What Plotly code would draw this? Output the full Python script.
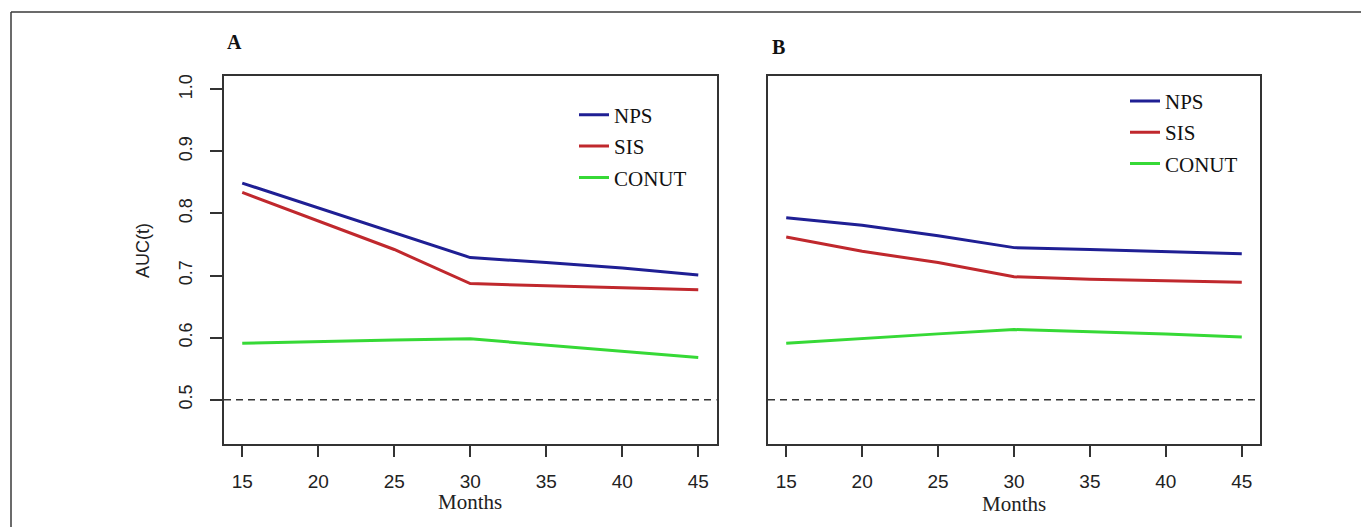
import plotly.graph_objects as go

# page is 1369x527; the html body has an 8px margin, so the figure is 1361x519
PAGE_OFF = 8
W, H = 1361, 519

months = [15, 20, 25, 30, 35, 40, 45]
x_ticks = [15, 20, 25, 30, 35, 40, 45]
y_ticks = [0.5, 0.6, 0.7, 0.8, 0.9, 1.0]
y_tick_labels = ["0.5", "0.6", "0.7", "0.8", "0.9", "1.0"]

series_names = ["NPS", "SIS", "CONUT"]

# Panel A
nps_a = [0.849, 0.809, 0.769, 0.729, 0.721, 0.712, 0.701]
sis_a = [0.834, 0.788, 0.742, 0.687, 0.684, 0.681, 0.677]
conut_a = [0.591, 0.594, 0.596, 0.598, 0.588, 0.578, 0.568]

# Panel B
nps_b = [0.793, 0.781, 0.764, 0.745, 0.742, 0.738, 0.735]
sis_b = [0.762, 0.739, 0.721, 0.698, 0.694, 0.691, 0.689]
conut_b = [0.591, 0.599, 0.606, 0.613, 0.610, 0.606, 0.601]

reference_auc = 0.5

colors = {"NPS": "#1f1f94", "SIS": "#c0282d", "CONUT": "#36d936"}
serif = "Times New Roman, Liberation Serif, serif"
sans = "Arial, Liberation Sans, sans-serif"
axis_col = "#333333"

def px_x(p):
    return (p - PAGE_OFF) / W

def px_y(p):
    return 1 - (p - PAGE_OFF) / H

fig = go.Figure()

panels = [
    ("x", "y", "legend", [nps_a, sis_a, conut_a]),
    ("x2", "y2", "legend2", [nps_b, sis_b, conut_b]),
]
for xa, ya, lg, vals in panels:
    for name, v in zip(series_names, vals):
        fig.add_trace(go.Scatter(
            x=months, y=v, mode="lines", name=name,
            line=dict(color=colors[name], width=3),
            xaxis=xa, yaxis=ya, legend=lg, legendgroup=name + lg,
        ))

ydom = [px_y(444), px_y(74)]
common_x = dict(range=[13.8, 46.2], tickvals=x_ticks, ticktext=[str(t) for t in x_ticks],
                showline=True, mirror=True, linecolor=axis_col, linewidth=1.5,
                ticks="outside", ticklen=11, tickwidth=1.5, tickcolor=axis_col,
                tickfont=dict(family=sans, size=19, color="#222"),
                ticklabelstandoff=8,
                showgrid=False, zeroline=False, fixedrange=True)
common_y = dict(range=[0.428, 1.022], showline=True, mirror=True, linecolor=axis_col,
                linewidth=1.5, showgrid=False, zeroline=False, domain=ydom)

legend_common = dict(xanchor="left", yanchor="top", bgcolor="rgba(0,0,0,0)",
                     font=dict(family=serif, size=21, color="#111"),
                     traceorder="grouped", tracegroupgap=1, itemwidth=30)

fig.update_layout(
    width=W, height=H,
    margin=dict(l=0, r=0, t=0, b=0),
    paper_bgcolor="white", plot_bgcolor="white",
    showlegend=True,
    xaxis=dict(domain=[px_x(224), px_x(716.5)], anchor="y", **common_x),
    yaxis=dict(anchor="x", tickvals=y_ticks, ticktext=y_tick_labels, tickangle=-90,
               ticks="outside", ticklen=12, tickwidth=1.5, tickcolor=axis_col,
               tickfont=dict(family=sans, size=18, color="#222"), ticklabelstandoff=11,
               **common_y),
    xaxis2=dict(domain=[px_x(768), px_x(1260)], anchor="y2", **common_x),
    yaxis2=dict(anchor="x2", ticks="", showticklabels=False, **common_y),
    legend=dict(x=px_x(574), y=px_y(93), **legend_common),
    legend2=dict(x=px_x(1125), y=px_y(79), **legend_common),
)

# reference line AUC = 0.5 on both panels
for xa, ya in [("x", "y"), ("x2", "y2")]:
    fig.add_shape(type="line", xref=f"{xa} domain", yref=ya, x0=0, x1=1,
                  y0=reference_auc, y1=reference_auc,
                  line=dict(color="#333", width=1.5, dash="7px,5px"))

# outer frame (open at right/bottom as in original crop)
fig.add_shape(type="line", xref="paper", yref="paper", x0=px_x(11), x1=px_x(11),
              y0=px_y(10), y1=-0.05, line=dict(color="#3a3a3a", width=1.5))
fig.add_shape(type="line", xref="paper", yref="paper", x0=px_x(11), x1=1.05,
              y0=px_y(10), y1=px_y(10), line=dict(color="#3a3a3a", width=1.5))

ann = [
    dict(text="<b>A</b>", x=px_x(234), y=px_y(40), font=dict(family=serif, size=20, color="#111")),
    dict(text="<b>B</b>", x=px_x(778), y=px_y(45), font=dict(family=serif, size=20, color="#111")),
    dict(text="Months", x=px_x(470), y=px_y(502), font=dict(family=serif, size=21, color="#222")),
    dict(text="Months", x=px_x(1014), y=px_y(504), font=dict(family=serif, size=21, color="#222")),
    dict(text="AUC(t)", x=px_x(143), y=px_y(250), textangle=-90,
         font=dict(family=sans, size=18, color="#222")),
]
for a in ann:
    fig.add_annotation(xref="paper", yref="paper", showarrow=False,
                       xanchor="center", yanchor="middle", **a)

fig.write_html("out.html")
